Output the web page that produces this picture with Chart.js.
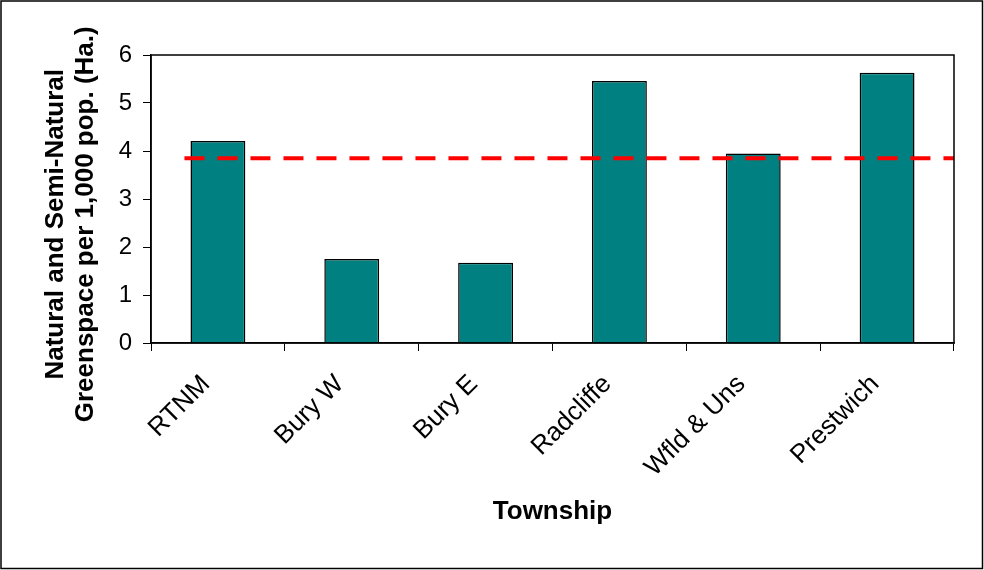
<!DOCTYPE html>
<html>
<head>
<meta charset="utf-8">
<script src="https://cdn.jsdelivr.net/npm/chart.js@4/dist/chart.umd.min.js"></script>
<style>
  body { margin: 0; background: #fff; }
  #wrap { width: 984px; height: 570px; position: relative; }
</style>
</head>
<body>
<div id="wrap"><canvas id="chart"></canvas></div>
<script>
// Data
const townships = ['RTNM', 'Bury W', 'Bury E', 'Radcliffe', 'Wfld & Uns', 'Prestwich'];
const greenspace = [4.21, 1.75, 1.67, 5.46, 3.95, 5.63];
const boroughAverage = 3.85;
const yTicks = [0, 1, 2, 3, 4, 5, 6];

const FONT = 'Liberation Sans, Arial, sans-serif';
// trailing spaces nudge the rotated axis title down a little, like the original
const PAD = '       ';

// frame round the figure + box round the plot area
const frame = {
  id: 'frame',
  beforeDraw(chart) {
    const ctx = chart.ctx;
    ctx.save();
    ctx.fillStyle = '#fff';
    ctx.fillRect(0, 0, chart.width, chart.height);
    ctx.restore();
  },
  afterDraw(chart) {
    const ctx = chart.ctx;
    const a = chart.chartArea;
    ctx.save();
    ctx.strokeStyle = '#000';
    ctx.lineWidth = 1.5;
    ctx.strokeRect(a.left, a.top, a.right - a.left, a.bottom - a.top);
    ctx.strokeRect(1, 1, chart.width - 2.5, chart.height - 2.5);
    ctx.restore();
  }
};

new Chart(document.getElementById('chart'), {
  type: 'bar',
  data: {
    labels: townships,
    datasets: [
      {
        type: 'line',
        xAxisID: 'xLine',
        data: [{ x: 0.25, y: boroughAverage }, { x: 6, y: boroughAverage }],
        borderColor: '#ff0000',
        borderWidth: 4,
        borderDash: [20, 13],
        pointRadius: 0,
        fill: false,
        order: 0
      },
      {
        data: greenspace,
        backgroundColor: '#008080',
        borderColor: '#000',
        borderWidth: 1.5,
        barPercentage: 0.41,
        categoryPercentage: 1,
        grouped: false,
        order: 1
      }
    ]
  },
  options: {
    responsive: true,
    maintainAspectRatio: false,
    animation: false,
    layout: { padding: { left: 41, top: 55, right: 30, bottom: 43 } },
    plugins: { legend: { display: false }, tooltip: { enabled: false } },
    scales: {
      x: {
        afterFit: s => { s.height = 184; },
        grid: { drawOnChartArea: false, color: '#000', tickLength: 8, offset: true },
        border: { color: '#000', width: 1.5 },
        ticks: {
          color: '#000',
          font: { family: FONT, size: 26 },
          minRotation: 45,
          maxRotation: 45,
          labelOffset: -12,
          padding: 18
        },
        title: {
          display: true,
          text: 'Township',
          color: '#000',
          font: { family: FONT, size: 26, weight: 'bold', lineHeight: 1.15 },
          padding: 0
        }
      },
      xLine: { type: 'linear', display: false, offset: false, min: 0, max: 6 },
      y: {
        min: 0,
        max: 6,
        afterFit: s => { s.width = 110; },
        afterBuildTicks: s => { s.ticks = yTicks.map(v => ({ value: v })); },
        grid: { drawOnChartArea: false, color: '#000', tickLength: 8 },
        border: { color: '#000', width: 1.5 },
        ticks: {
          color: '#000',
          font: { family: FONT, size: 24 },
          padding: 11
        },
        title: {
          display: true,
          text: ['Natural and Semi-Natural' + PAD, 'Greenspace per 1,000 pop. (Ha.)' + PAD],
          color: '#000',
          font: { family: FONT, size: 26, weight: 'bold', lineHeight: 1.15 },
          padding: 0
        }
      }
    }
  },
  plugins: [frame]
});
</script>
</body>
</html>
